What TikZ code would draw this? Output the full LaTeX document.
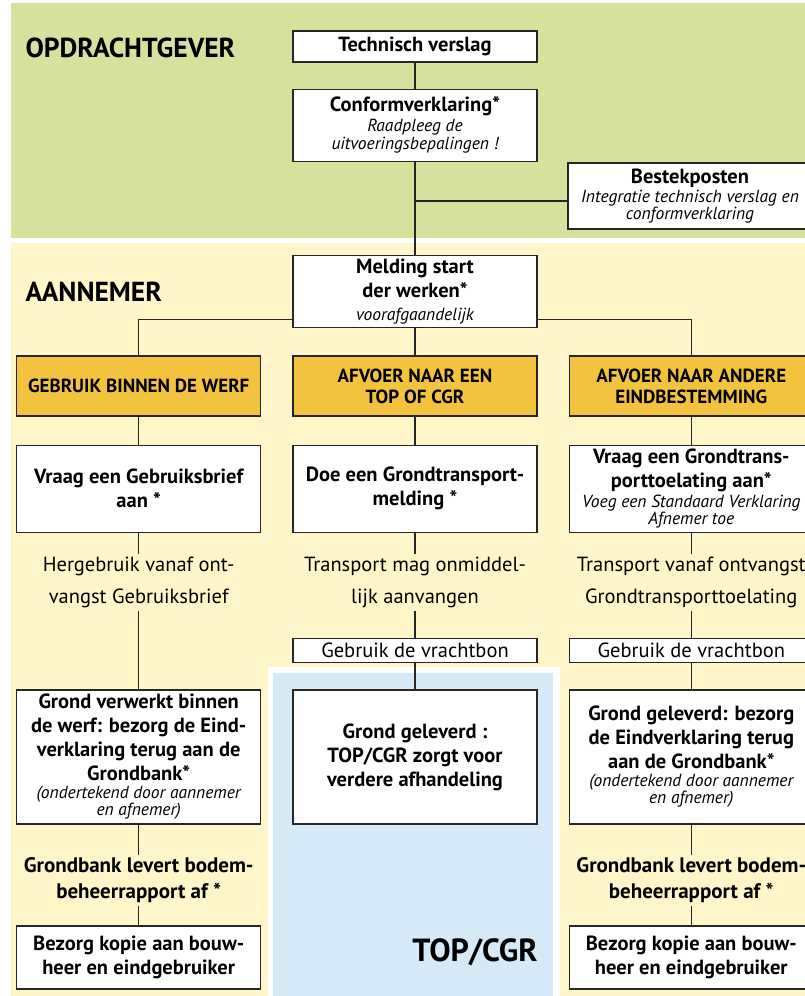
\documentclass[tikz,border=0pt]{standalone}
\usepackage{fontspec}
\setmainfont{PT Sans}
\usetikzlibrary{positioning}

\definecolor{opdrgroen}{RGB}{214,225,158}
\definecolor{aannemergeel}{RGB}{254,245,201}
\definecolor{keuzeoranje}{RGB}{243,195,64}
\definecolor{topblauw}{RGB}{213,233,247}

\newcommand{\hoofdletter}{\fontsize{20.5}{24}\selectfont\bfseries}
\newcommand{\toelichting}{\fontsize{17.5}{17}\selectfont\mdseries\itshape}

\begin{document}
\begin{tikzpicture}[
        x=1pt, y=-1pt,
        node distance=28pt and 31pt,
        stapbox/.style={
            rectangle,
            draw=black!85,
            line width=1.3pt,
            fill=white,
            align=center,
            minimum width=244pt,
            inner sep=3pt,
            font=\hoofdletter
        },
        keuze/.style={
            stapbox,
            fill=keuzeoranje,
            minimum height=60pt,
            font=\fontsize{19}{21}\selectfont\bfseries
        },
        bon/.style={
            stapbox,
            minimum height=24pt,
            inner sep=1pt,
            font=\fontsize{20.5}{21}\selectfont
        },
        tussentekst/.style={
            align=center,
            inner sep=3pt,
            font=\fontsize{20.5}{32}\selectfont
        },
        bodemtekst/.style={
            align=center,
            inner sep=3pt,
            font=\fontsize{21}{26}\selectfont\bfseries
        },
        rol/.style={
            anchor=west,
            font=\fontsize{27.5}{30}\selectfont\bfseries
        },
        lijn/.style={line width=1.1pt, black!85}
        ]

        % Achtergrondvlakken
        \useasboundingbox (0,0) rectangle (805,996);
        \fill[opdrgroen] (11,3) rectangle (805,238);
        \fill[aannemergeel] (11,243) rectangle (805,996);
        \fill[white] (268,667) rectangle (560,996);
        \fill[topblauw] (273,673) rectangle (553,996);

        % Opdrachtgever
        \node[rol] (opdrachtgever) at (22,48) {OPDRACHTGEVER};
        \node[stapbox, minimum height=31pt] (verslag) at (415,46.5) {Technisch verslag};
        \node[stapbox, minimum height=72pt, below=26pt of verslag] (conform)
            {Conformverklaring*\\[-4pt]\toelichting Raadpleeg de\\[-6pt]\toelichting uitvoeringsbepalingen !};
        \node[stapbox, minimum height=66pt] (bestek) at (690,196)
            {Bestekposten\\[-5pt]\toelichting Integratie technisch verslag en\\[-7pt]\toelichting conformverklaring};

        % Aannemer
        \node[rol] (aannemer) at (22,292) {AANNEMER};
        \node[stapbox, minimum height=72pt, below=93pt of conform] (melding)
            {Melding start\\der werken*\\[-1pt]\toelichting voorafgaandelijk};

        % Keuze van bestemming
        \node[keuze, below=27pt of melding] (afvoertop) {AFVOER NAAR EEN\\TOP OF CGR};
        \node[keuze, left=of afvoertop] (gebruik) {GEBRUIK BINNEN DE WERF};
        \node[keuze, right=of afvoertop] (afvoerander) {AFVOER NAAR ANDERE\\EINDBESTEMMING};

        % Aanvragen
        \node[stapbox, minimum height=87pt, below=of afvoertop] (gtmelding)
            {Doe een Grondtransport-\\melding *};
        \node[stapbox, minimum height=87pt, left=of gtmelding] (gebruiksbrief)
            {Vraag een Gebruiksbrief\\aan *};
        \node[stapbox, minimum height=87pt, right=of gtmelding] (toelating)
            {Vraag een Grondtrans-\\porttoelating aan*\\[-4pt]\toelichting Voeg een Standaard Verklaring\\[-7pt]\toelichting Afnemer toe};

        % Wanneer mag het
        \node[tussentekst, below=21pt of gebruiksbrief] (hergebruik) {Hergebruik vanaf ont-\\vangst Gebruiksbrief};
        \node[tussentekst, below=21pt of gtmelding] (meteen) {Transport mag onmiddel-\\lijk aanvangen};
        \node[tussentekst, below=21pt of toelating] (vanafontvangst) {Transport vanaf ontvangst\\Grondtransporttoelating};

        % Vrachtbon
        \node[bon, below=27pt of meteen] (bonmidden) {Gebruik de vrachtbon};
        \node[bon, right=of bonmidden] (bonrechts) {Gebruik de vrachtbon};

        % Levering
        \node[stapbox, minimum height=134pt, below=26pt of bonmidden] (geleverdtop)
            {Grond geleverd :\\TOP/CGR zorgt voor\\verdere afhandeling};
        \node[stapbox, minimum height=134pt, left=of geleverdtop] (verwerkt)
            {Grond verwerkt binnen\\de werf: bezorg de Eind-\\verklaring terug aan de\\Grondbank*\\[-6pt]\toelichting (ondertekend door aannemer\\[-7pt]\toelichting en afnemer)};
        \node[stapbox, minimum height=134pt, right=of geleverdtop] (geleverd)
            {Grond geleverd: bezorg\\de Eindverklaring terug\\aan de Grondbank*\\[-6pt]\toelichting (ondertekend door aannemer\\[-7pt]\toelichting en afnemer)};

        % Bodembeheerrapport
        \node[bodemtekst, below=30pt of verwerkt] (rapportlinks) {Grondbank levert bodem-\\beheerrapport af *};
        \node[bodemtekst, below=30pt of geleverd] (rapportrechts) {Grondbank levert bodem-\\beheerrapport af *};
        \node[stapbox, minimum height=63pt, below=19pt of rapportlinks] (kopielinks) {Bezorg kopie aan bouw-\\heer en eindgebruiker};
        \node[stapbox, minimum height=63pt, below=19pt of rapportrechts] (kopierechts) {Bezorg kopie aan bouw-\\heer en eindgebruiker};

        \node[font=\fontsize{32}{36}\selectfont\bfseries] (topcgr) at (475,952) {TOP/CGR};

        % Verbindingen
        \draw[lijn] (verslag) -- (conform);
        \draw[lijn] (conform) -- (melding);
        \draw[lijn] ([yshift=-5pt]bestek.west) -- ([yshift=-5pt]bestek.west -| conform.south);

        \draw[lijn] ([yshift=-28pt]melding.west) -| (gebruik);
        \draw[lijn] ([yshift=-28pt]melding.east) -| (afvoerander);
        \draw[lijn] (melding) -- (afvoertop);

        \draw[lijn] (gebruik) -- (gebruiksbrief);
        \draw[lijn] (afvoertop) -- (gtmelding);
        \draw[lijn] (afvoerander) -- (toelating);

        \draw[lijn] (gebruiksbrief) -- (hergebruik);
        \draw[lijn] (gtmelding) -- (meteen);
        \draw[lijn] (toelating) -- (vanafontvangst);

        \draw[lijn] (hergebruik) -- (verwerkt);
        \draw[lijn] (meteen) -- (bonmidden);
        \draw[lijn] (vanafontvangst) -- (bonrechts);
        \draw[lijn] (bonmidden) -- (geleverdtop);
        \draw[lijn] (bonrechts) -- (geleverd);

        \draw[lijn] (verwerkt) -- (rapportlinks);
        \draw[lijn] (geleverd) -- (rapportrechts);
        \draw[lijn] (rapportlinks) -- (kopielinks);
        \draw[lijn] (rapportrechts) -- (kopierechts);

\end{tikzpicture}
\end{document}
